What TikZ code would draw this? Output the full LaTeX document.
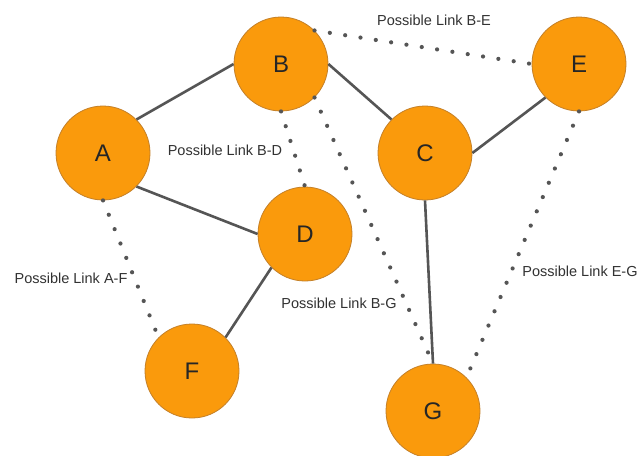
\documentclass[tikz,border=0pt]{standalone}
\usepackage{fontspec}
\setmainfont{Liberation Sans}
\definecolor{nodefill}{RGB}{250,154,12}
\definecolor{nodeline}{RGB}{196,128,40}
\definecolor{edgegray}{RGB}{85,85,85}
\definecolor{labelgray}{RGB}{50,50,50}
\tikzset{
  vertex/.style={circle, fill=nodefill, draw=nodeline, line width=0.8pt, minimum size=94pt, inner sep=0pt, font=\fontsize{24}{28}\selectfont, text=black!85},
  link/.style={draw=edgegray, line width=2.6pt},
  maybe/.style={draw=edgegray, line width=4.2pt, line cap=round, dash pattern=on 0pt off 15.5pt},
  lbl/.style={font=\fontsize{14.5}{17}\selectfont, text=labelgray, inner sep=0pt}
}
\begin{document}
\begin{tikzpicture}[x=1pt,y=-1pt]
\useasboundingbox (0,0) rectangle (639,455);
\clip (0,0) rectangle (639,455);
\fill[white] (0,0) rectangle (639,455);
\node[vertex] (A) at (103,153) {A};
\node[vertex] (B) at (281,64) {B};
\node[vertex] (C) at (425,153) {C};
\node[vertex] (D) at (305,234) {D};
\node[vertex] (E) at (579,64) {E};
\node[vertex] (F) at (192,371) {F};
\node[vertex] (G) at (433,411) {G};
% solid links
\draw[link] (A.north east) -- (B.west);
\draw[link] (A.south east) -- (D.west);
\draw[link] (B.east) -- (C.north west);
\draw[link] (C.east) -- (E.south west);
\draw[link] (D.south west) -- (F.north east);
\draw[link] (C.south) -- (G.north);
% possible links
\draw[maybe] (B.north east) -- (E.west);
\draw[maybe] (B.south) -- (D.north);
\draw[maybe] (B.south east) -- (G.north);
\draw[maybe] (A.south) -- (F.north west);
\draw[maybe] (E.south) -- (G.north east);
% labels
\node[lbl] (lBE) at (434,20) {Possible Link B-E};
\node[lbl] (lBD) at (225,150) {Possible Link B-D};
\node[lbl] (lAF) at (71,278) {Possible Link A-F};
\node[lbl] (lBG) at (339,303) {Possible Link B-G};
\node[lbl] (lEG) at (580,271) {Possible Link E-G};
\end{tikzpicture}
\end{document}
